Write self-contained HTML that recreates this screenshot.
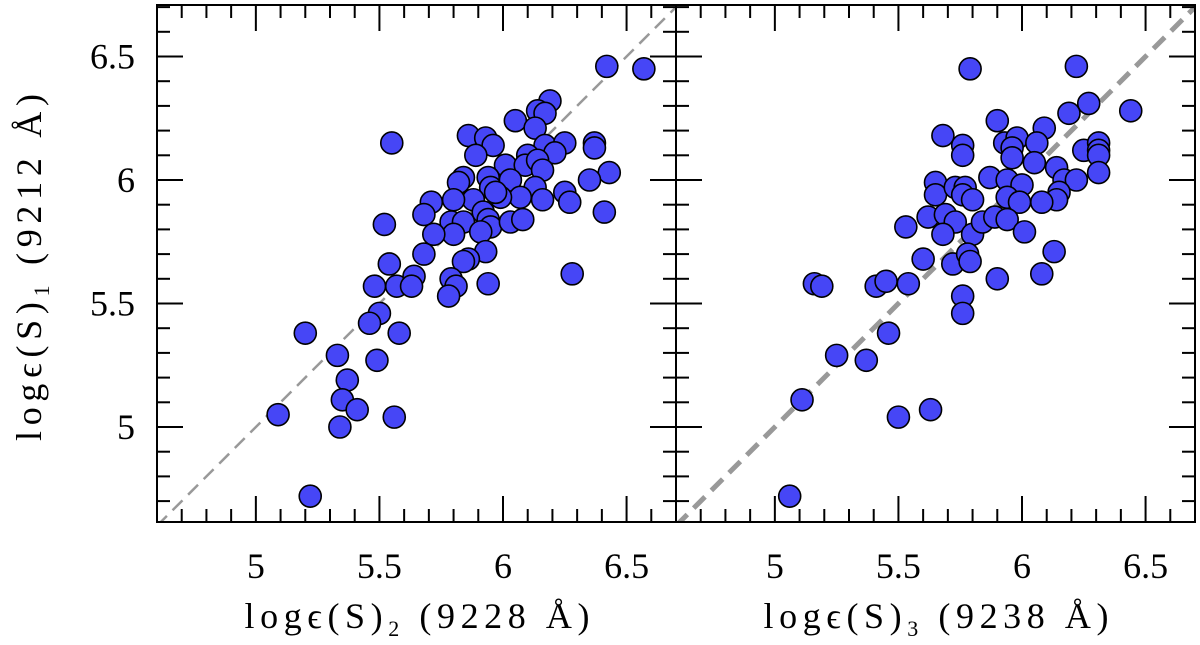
<!DOCTYPE html>
<html><head><meta charset="utf-8"><style>
html,body{margin:0;padding:0;background:#fff;}
svg{display:block;}
text{font-family:"Liberation Serif",serif;}
</style></head><body>
<svg id="chart" width="1200" height="645" viewBox="0 0 1200 645" xmlns="http://www.w3.org/2000/svg"></svg>
<script>
const xTicks=[5,5.5,6,6.5];
const yTicks=[5,5.5,6,6.5];
const tickLabels=["5","5.5","6","6.5"];
const leftX=[6.42,6.57,6.19,6.14,6.17,6.05,6.13,5.55,5.86,5.93,5.96,5.89,6.17,6.25,6.21,6.37,6.37,6.01,6.10,6.09,6.14,6.16,6.43,6.35,5.84,5.82,5.94,5.95,6.03,6.13,6.25,6.27,6.16,6.07,5.99,5.97,5.88,5.80,5.71,5.68,6.41,5.52,5.79,5.84,5.92,5.94,5.95,6.03,6.08,5.91,5.80,5.72,5.68,5.93,5.86,5.84,5.54,6.28,5.48,5.57,5.64,5.63,5.79,5.81,5.94,5.78,5.50,5.46,5.58,5.20,5.33,5.49,5.37,5.35,5.41,5.09,5.56,5.34,5.22];
const leftY=[6.46,6.45,6.32,6.28,6.27,6.24,6.21,6.15,6.18,6.17,6.14,6.10,6.14,6.15,6.11,6.15,6.13,6.06,6.10,6.06,6.08,6.04,6.03,6.00,6.01,5.99,6.01,5.97,6.00,5.97,5.95,5.91,5.92,5.93,5.93,5.95,5.92,5.92,5.91,5.86,5.87,5.82,5.83,5.83,5.87,5.84,5.81,5.83,5.84,5.79,5.78,5.78,5.70,5.71,5.68,5.67,5.66,5.62,5.57,5.57,5.61,5.57,5.60,5.57,5.58,5.53,5.46,5.42,5.38,5.38,5.29,5.27,5.19,5.11,5.07,5.05,5.04,5.00,4.72];
const rightX=[5.79,6.22,6.27,6.19,6.44,5.90,6.09,5.68,5.76,5.76,5.93,5.98,5.96,5.96,6.06,6.05,6.25,6.31,6.31,6.31,6.31,6.14,6.17,6.22,6.15,6.14,6.08,5.87,5.94,6.00,5.94,5.99,5.65,5.65,5.73,5.77,5.76,5.80,5.62,5.69,5.73,5.68,5.80,5.84,5.89,5.94,6.01,5.53,5.60,5.72,5.78,5.79,5.90,6.13,6.08,5.16,5.19,5.41,5.45,5.54,5.76,5.76,5.46,5.25,5.37,5.11,5.50,5.63,5.06];
const rightY=[6.45,6.46,6.31,6.27,6.28,6.24,6.21,6.18,6.14,6.10,6.15,6.17,6.13,6.09,6.15,6.07,6.12,6.15,6.12,6.10,6.03,6.05,6.00,6.00,5.95,5.92,5.91,6.01,6.00,5.98,5.93,5.91,5.99,5.94,5.97,5.97,5.94,5.92,5.85,5.86,5.83,5.78,5.78,5.83,5.85,5.84,5.79,5.81,5.68,5.66,5.70,5.67,5.60,5.71,5.62,5.58,5.57,5.57,5.59,5.58,5.53,5.46,5.38,5.29,5.27,5.11,5.04,5.07,4.72];

const NS="http://www.w3.org/2000/svg";
const svg=document.getElementById('chart');
const VMIN=4.6,VMAX=6.7;
const Y0=427,YK=247;
function yS(v){return Y0-(v-5)*YK;}
function mk(tag,attrs,parent){const e=document.createElementNS(NS,tag);for(const k in attrs)e.setAttribute(k,attrs[k]);(parent||svg).appendChild(e);return e;}

function panel(name,left,right,xs,ys,dashW,dashArr,xlab,sub){
  const g=mk('g',{});
  
  
  const xS=v=>left+(v-VMIN)*(right-left)/(VMAX-VMIN);
  const top=5,bot=522;
  const clipId='clip-'+name;
  const cp=mk('clipPath',{id:clipId},g);
  mk('rect',{x:left,y:top,width:right-left,height:bot-top},cp);
  const dl=mk('line',{x1:xS(VMIN),y1:yS(VMIN),x2:xS(VMAX),y2:yS(VMAX),stroke:'#999','stroke-width':dashW,'stroke-dasharray':dashArr,'clip-path':'url(#'+clipId+')'},g);
  
  
  const pg=mk('g',{'clip-path':'url(#'+clipId+')'},g);
  for(let i=0;i<xs.length;i++){
    const c=mk('circle',{cx:xS(xs[i]),cy:yS(ys[i]),r:11,fill:'#4646f6',stroke:'#000','stroke-width':1.6},pg);
    
    
  }
  const fr=mk('rect',{x:left,y:top,width:right-left,height:bot-top,fill:'none',stroke:'#000','stroke-width':2},g);
  
  
  for(let t=46;t<=67;t++){
    const v=t/10,x=xS(v),maj=(t%5===0),L=maj?26:13;
    mk('line',{x1:x,y1:bot,x2:x,y2:bot-L,stroke:'#000','stroke-width':2},g);
    mk('line',{x1:x,y1:top,x2:x,y2:top+L,stroke:'#000','stroke-width':2},g);
  }
  for(let t=47;t<=67;t++){
    const v=t/10,y=yS(v),maj=(t%5===0),L=maj?26:13;
    mk('line',{x1:left,y1:y,x2:left+L,y2:y,stroke:'#000','stroke-width':2},g);
    mk('line',{x1:right,y1:y,x2:right-L,y2:y,stroke:'#000','stroke-width':2},g);
  }
  xTicks.forEach((v,i)=>{
    const t=mk('text',{x:xS(v),y:578,'text-anchor':'middle','font-size':36},g);
    t.textContent=tickLabels[i];
    
    
  });
  const cx=(left+right)/2;
  const xt=mk('text',{x:cx-172,y:628,'font-size':36,textLength:345,lengthAdjust:'spacing'},g);
  xt.innerHTML='logϵ(S)<tspan font-size="22" dy="8">'+sub+'</tspan><tspan dy="-8">  (</tspan>'+xlab+' Å)';
  
  
}
panel('left-panel',157,676,leftX,leftY,2.5,'14 8','9228','2');
panel('right-panel',676,1195,rightX,rightY,5,'16 9','9238','3');
yTicks.forEach((v,i)=>{
  const t=mk('text',{x:135,y:yS(v)+12,'text-anchor':'end','font-size':36});
  t.textContent=tickLabels[i];
  
  
});
const yt=mk('text',{x:-173,y:0,'font-size':36,textLength:347,lengthAdjust:'spacing',transform:'translate(41,268) rotate(-90)'});
yt.innerHTML='logϵ(S)<tspan font-size="22" dy="8">1</tspan><tspan dy="-8">  (9212 Å)</tspan>';


</script>
</body></html>
